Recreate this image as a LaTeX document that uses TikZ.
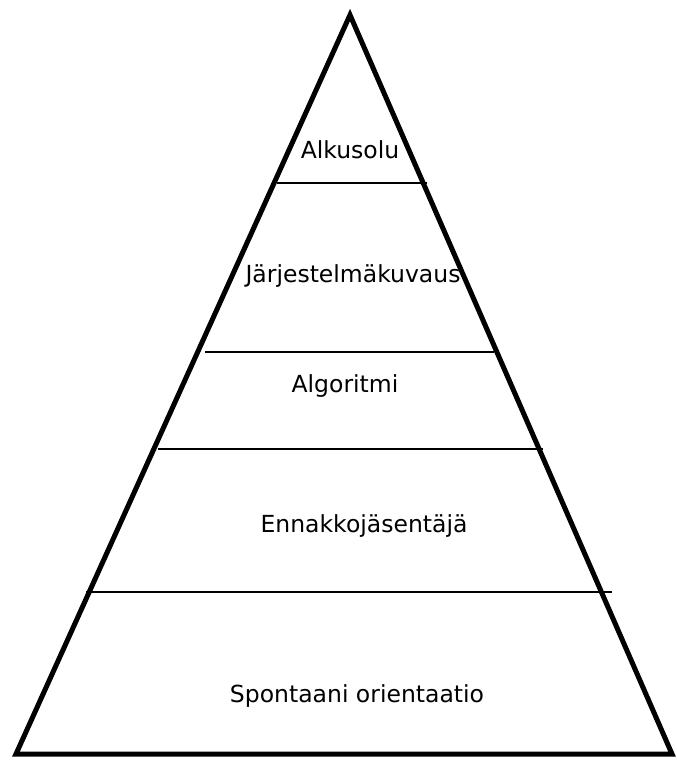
\documentclass[tikz,border=0pt]{standalone}
\usepackage{fontspec}
\setmainfont{DejaVu Sans}
\begin{document}
\begin{tikzpicture}[x=1pt,y=-1pt,
  outer/.style={line width=5pt,line join=miter},
  divider/.style={line width=2pt},
  lbl/.style={font=\fontsize{23.5}{28}\selectfont,inner sep=0pt,anchor=base}]
\useasboundingbox (0,0) rectangle (677,760);
\coordinate (apex) at (350,15);
\coordinate (bl) at (16,754);
\coordinate (br) at (672,754);
\draw[outer] (apex) -- (br) -- (bl) -- cycle;
\coordinate (a1) at (277,183); \coordinate (b1) at (427,183);
\coordinate (a2) at (205,352); \coordinate (b2) at (494,352);
\coordinate (a3) at (158,449); \coordinate (b3) at (543,449);
\coordinate (a4) at (86,592);  \coordinate (b4) at (612,592);
\draw[divider] (a1) -- (b1);
\draw[divider] (a2) -- (b2);
\draw[divider] (a3) -- (b3);
\draw[divider] (a4) -- (b4);
\node[lbl] (t1) at (350,158) {Alkusolu};
\node[lbl] (t2) at (353,282) {Järjestelmäkuvaus};
\node[lbl] (t3) at (345,392) {Algoritmi};
\node[lbl] (t4) at (364,532) {Ennakkojäsentäjä};
\node[lbl] (t5) at (357,702) {Spontaani orientaatio};
\end{tikzpicture}
\end{document}
